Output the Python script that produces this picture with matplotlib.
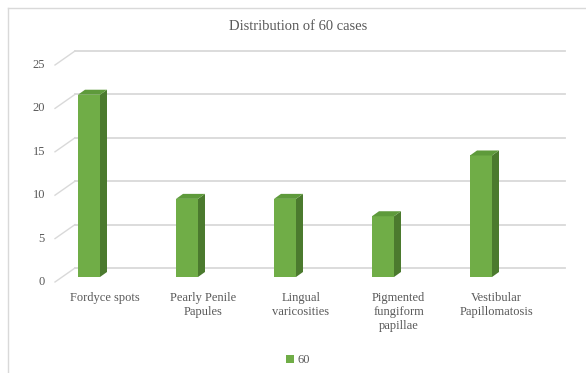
import matplotlib.pyplot as plt
from matplotlib.patches import Polygon, Patch
from matplotlib.lines import Line2D

plt.rcParams['font.family'] = ['Liberation Serif', 'DejaVu Serif']

# data
categories = ["Fordyce spots", "Pearly Penile\nPapules", "Lingual\nvaricosities",
              "Pigmented\nfungiform\npapillae", "Vestibular\nPapillomatosis"]
cases = [21, 9, 9, 7, 14]
y_ticks = [0, 5, 10, 15, 20, 25]
series_name = "60"
title = "Distribution of 60 cases"

FRONT = "#70ad47"
SIDE = "#4b7a2e"
TOP = "#5e9a3b"
GRID = "#d9d9d9"
TXT = "#595959"

# pixel geometry of the fake 3D (converted to data units)
PX_X, PX_Y = 98.0, 8.68        # pixels per category / per unit
X0_PX, Y0_PX = 89.0, 277.0     # pixel of category 0 / value 0 (bar front)
W, H = 586, 373

half_w = 11 / PX_X
dx, dy = 7 / PX_X, 5 / PX_Y            # bar depth
wall_dx, wall_dy = 20 / PX_X, 14 / PX_Y  # floor depth
front_x = (55 - X0_PX) / PX_X
front_dy = -5 / PX_Y
back_right = (565 - X0_PX) / PX_X

fig = plt.figure(figsize=(W / 100, H / 100), dpi=100)
ax = fig.add_axes([0, 0, 1, 1])
ax.set_xlim(-X0_PX / PX_X, (W - X0_PX) / PX_X)
ax.set_ylim((Y0_PX - H) / PX_Y, Y0_PX / PX_Y)
ax.axis("off")

# walls: left diagonals + back gridlines
for t in y_ticks:
    yf = t + front_dy
    yb = yf + wall_dy
    ax.plot([front_x, front_x + wall_dx], [yf, yb], color=GRID, lw=1, zorder=1)
    ax.plot([front_x + wall_dx, back_right], [yb, yb], color=GRID, lw=1.3, zorder=1)
    ax.text(front_x - 10 / PX_X, yf, str(t), ha="right", va="center",
            fontsize=9, color=TXT)

# bars
xs = list(range(len(cases)))
ax.bar(xs, cases, width=2 * half_w, color=FRONT, zorder=3)
for x, v in zip(xs, cases):
    r = x + half_w
    l = x - half_w
    ax.add_patch(Polygon([(r, 0), (r + dx, dy), (r + dx, v + dy), (r, v)],
                         closed=True, facecolor=SIDE, edgecolor="none", zorder=3))
    ax.add_patch(Polygon([(l, v), (r, v), (r + dx, v + dy), (l + dx, v + dy)],
                         closed=True, facecolor=TOP, edgecolor="none", zorder=3))

# category labels
for x, lab in zip(xs, categories):
    ax.text(x + 0.16, -1.75, lab, ha="center", va="top", fontsize=9,
            color=TXT, linespacing=1.2)

fig.text(298 / W, 1 - 26 / H, title, ha="center", va="center",
         fontsize=10.5, color=TXT)

ax.legend(handles=[Patch(facecolor=FRONT, label=series_name)], loc="center",
          bbox_to_anchor=(298 / W, 1 - 360 / H), bbox_transform=fig.transFigure,
          frameon=False, fontsize=9, handlelength=0.6, handleheight=0.6,
          handletextpad=0.3, labelcolor=TXT)

# chart border (top and left visible)
fig.add_artist(Line2D([8 / W, 1], [1 - 8 / H, 1 - 8 / H], color=GRID, lw=1,
                      transform=fig.transFigure))
fig.add_artist(Line2D([8 / W, 8 / W], [0, 1 - 8 / H], color=GRID, lw=1,
                      transform=fig.transFigure))

fig.savefig("out.png", dpi=100)
